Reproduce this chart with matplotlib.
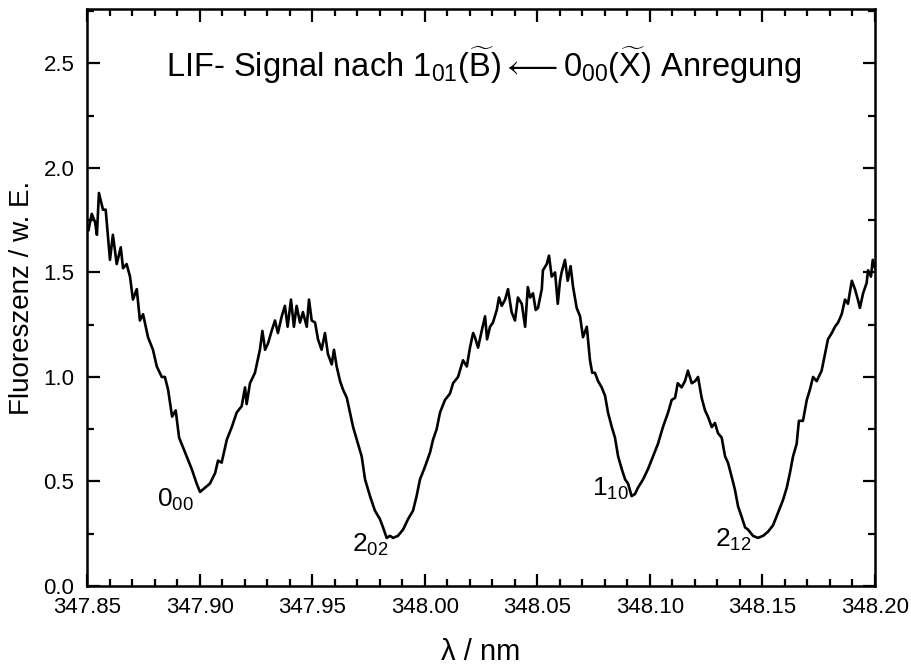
import numpy as np
import matplotlib
matplotlib.use("Agg")
import matplotlib.pyplot as plt
from matplotlib.ticker import MultipleLocator, FormatStrFormatter

plt.rcParams["font.family"] = ["Liberation Sans", "DejaVu Sans"]
plt.rcParams["mathtext.fontset"] = "custom"
plt.rcParams["mathtext.rm"] = "Liberation Sans"
plt.rcParams["mathtext.it"] = "Liberation Sans:italic"
plt.rcParams["mathtext.bf"] = "Liberation Sans:bold"

# wavelength (nm) and LIF signal
wavelength = [
    347.8500, 347.8506, 347.8521, 347.8536, 347.8544, 347.8553, 347.8571, 347.8583,
    347.8602, 347.8615, 347.8632, 347.8650, 347.8660, 347.8676, 347.8691, 347.8704,
    347.8721, 347.8735, 347.8749, 347.8771, 347.8793, 347.8810, 347.8832, 347.8846,
    347.8860, 347.8878, 347.8894, 347.8909, 347.8935, 347.8965, 347.8987, 347.9002,
    347.9024, 347.9046, 347.9069, 347.9082, 347.9098, 347.9121, 347.9143, 347.9165,
    347.9187, 347.9202, 347.9209, 347.9224, 347.9246, 347.9254, 347.9268, 347.9279,
    347.9291, 347.9304, 347.9320, 347.9335, 347.9348, 347.9365, 347.9379, 347.9391,
    347.9406, 347.9419, 347.9431, 347.9446, 347.9459, 347.9476, 347.9486, 347.9498,
    347.9513, 347.9526, 347.9542, 347.9557, 347.9570, 347.9587, 347.9597, 347.9609,
    347.9624, 347.9637, 347.9654, 347.9668, 347.9682, 347.9704, 347.9720, 347.9735,
    347.9757, 347.9779, 347.9801, 347.9815, 347.9831, 347.9846, 347.9859, 347.9881,
    347.9904, 347.9926, 347.9948, 347.9964, 347.9979, 348.0001, 348.0024, 348.0037,
    348.0053, 348.0068, 348.0090, 348.0112, 348.0126, 348.0148, 348.0170, 348.0187,
    348.0201, 348.0215, 348.0223, 348.0237, 348.0253, 348.0268, 348.0277, 348.0290,
    348.0303, 348.0320, 348.0330, 348.0342, 348.0357, 348.0370, 348.0386, 348.0401,
    348.0414, 348.0431, 348.0446, 348.0458, 348.0468, 348.0481, 348.0493, 348.0503,
    348.0520, 348.0525, 348.0542, 348.0552, 348.0564, 348.0579, 348.0591, 348.0601,
    348.0608, 348.0623, 348.0635, 348.0648, 348.0659, 348.0675, 348.0690, 348.0703,
    348.0720, 348.0734, 348.0744, 348.0756, 348.0770, 348.0786, 348.0801, 348.0814,
    348.0831, 348.0845, 348.0859, 348.0875, 348.0890, 348.0903, 348.0919, 348.0934,
    348.0947, 348.0970, 348.0992, 348.1014, 348.1036, 348.1058, 348.1081, 348.1097,
    348.1112, 348.1124, 348.1141, 348.1156, 348.1169, 348.1186, 348.1201, 348.1214,
    348.1230, 348.1245, 348.1258, 348.1275, 348.1289, 348.1303, 348.1319, 348.1334,
    348.1347, 348.1364, 348.1378, 348.1392, 348.1408, 348.1423, 348.1436, 348.1458,
    348.1480, 348.1503, 348.1525, 348.1547, 348.1569, 348.1591, 348.1608, 348.1622,
    348.1636, 348.1652, 348.1662, 348.1680, 348.1697, 348.1711, 348.1725, 348.1741,
    348.1763, 348.1778, 348.1791, 348.1808, 348.1822, 348.1836, 348.1852, 348.1867,
    348.1880, 348.1897, 348.1911, 348.1924, 348.1933, 348.1947, 348.1963, 348.1969,
    348.1982, 348.1990, 348.2000,
]
signal = [
    1.72, 1.70, 1.78, 1.74, 1.68, 1.88, 1.80, 1.80,
    1.56, 1.68, 1.54, 1.62, 1.52, 1.54, 1.48, 1.37,
    1.42, 1.27, 1.30, 1.19, 1.13, 1.05, 1.00, 1.00,
    0.94, 0.81, 0.84, 0.71, 0.64, 0.56, 0.49, 0.45,
    0.47, 0.49, 0.54, 0.60, 0.59, 0.70, 0.76, 0.83,
    0.86, 0.95, 0.87, 0.97, 1.02, 1.06, 1.13, 1.22,
    1.13, 1.16, 1.22, 1.27, 1.21, 1.29, 1.34, 1.24,
    1.37, 1.24, 1.34, 1.26, 1.31, 1.24, 1.37, 1.27,
    1.26, 1.18, 1.13, 1.21, 1.11, 1.06, 1.13, 1.05,
    0.98, 0.94, 0.90, 0.83, 0.76, 0.68, 0.62, 0.51,
    0.43, 0.36, 0.32, 0.28, 0.23, 0.24, 0.23, 0.24,
    0.27, 0.32, 0.36, 0.43, 0.51, 0.57, 0.64, 0.70,
    0.75, 0.83, 0.89, 0.92, 0.97, 1.00, 1.08, 1.05,
    1.14, 1.21, 1.19, 1.14, 1.22, 1.29, 1.18, 1.24,
    1.26, 1.32, 1.38, 1.34, 1.37, 1.42, 1.31, 1.27,
    1.38, 1.35, 1.24, 1.43, 1.38, 1.40, 1.32, 1.33,
    1.42, 1.51, 1.54, 1.58, 1.48, 1.50, 1.35, 1.46,
    1.50, 1.56, 1.46, 1.53, 1.43, 1.33, 1.29, 1.19,
    1.24, 1.08, 1.02, 1.02, 0.98, 0.95, 0.91, 0.83,
    0.76, 0.71, 0.62, 0.56, 0.51, 0.49, 0.43, 0.44,
    0.47, 0.51, 0.56, 0.62, 0.68, 0.76, 0.83, 0.89,
    0.90, 0.97, 0.95, 0.98, 1.03, 0.97, 0.98, 1.00,
    0.90, 0.84, 0.81, 0.76, 0.78, 0.73, 0.71, 0.62,
    0.59, 0.52, 0.46, 0.38, 0.33, 0.28, 0.27, 0.24,
    0.23, 0.24, 0.26, 0.29, 0.35, 0.41, 0.47, 0.54,
    0.62, 0.68, 0.79, 0.79, 0.89, 0.94, 1.00, 0.98,
    1.03, 1.11, 1.18, 1.21, 1.24, 1.26, 1.30, 1.37,
    1.35, 1.46, 1.42, 1.37, 1.33, 1.40, 1.45, 1.51,
    1.48, 1.56, 1.52,
]

peak_labels = [r"$\mathrm{0_{00}}$", r"$\mathrm{2_{02}}$",
               r"$\mathrm{1_{10}}$", r"$\mathrm{2_{12}}$"]
peak_label_x = [347.8811, 347.9677, 348.0743, 348.1289]
peak_label_y = [0.38, 0.163, 0.43, 0.186]

fig = plt.figure(figsize=(9.12, 6.68), dpi=100)
ax = fig.add_axes([87 / 912, 1 - 586 / 668, 788 / 912, 577 / 668])

ax.plot(wavelength, signal, color="black", lw=1.9)

for lab, lx, ly in zip(peak_labels, peak_label_x, peak_label_y):
    ax.text(lx, ly, lab, fontsize=19, ha="left", va="baseline")

ax.text(348.0261, 2.433,
        r"LIF- Signal nach $\mathrm{1_{01}}$($\widetilde{\mathrm{B}}$)$\longleftarrow$"
        r"$\mathrm{0_{00}}$($\widetilde{\mathrm{X}}$) Anregung",
        fontsize=23.5, ha="center", va="baseline")

ax.set_xlim(347.85, 348.20)
ax.set_ylim(0, 2.76)
ax.xaxis.set_major_locator(MultipleLocator(0.05))
ax.xaxis.set_minor_locator(MultipleLocator(0.01))
ax.yaxis.set_major_locator(MultipleLocator(0.5))
ax.yaxis.set_minor_locator(MultipleLocator(0.25))
ax.xaxis.set_major_formatter(FormatStrFormatter("%.2f"))
ax.yaxis.set_major_formatter(FormatStrFormatter("%.1f"))

ax.tick_params(which="both", direction="in", top=True, right=True, width=1.6,
               labelsize=16)
ax.tick_params(axis="x", which="major", length=9, pad=8)
ax.tick_params(axis="y", which="major", length=9, pad=9)
ax.tick_params(which="minor", length=5)
for sp in ax.spines.values():
    sp.set_linewidth(1.8)

ax.set_xlabel("λ / nm", fontsize=21, labelpad=14)
ax.set_ylabel("Fluoreszenz / w. E.", fontsize=20, labelpad=6)

fig.savefig("out.png", dpi=100)
